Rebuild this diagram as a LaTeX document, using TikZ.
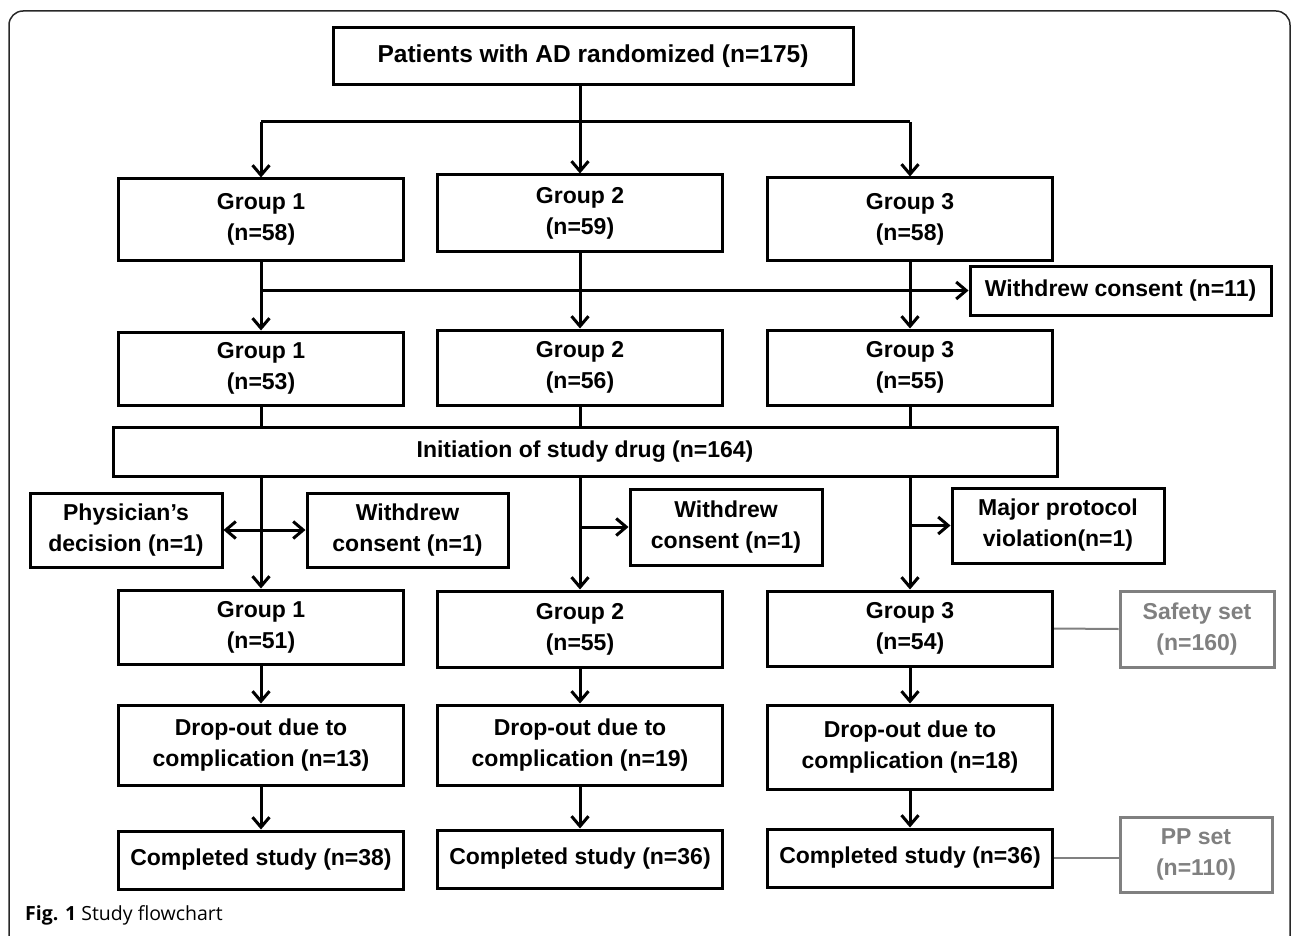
\documentclass[tikz,border=0pt]{standalone}
\usepackage{fontspec}
\setmainfont{Liberation Sans}
\newfontfamily\capfont{Open Sans}
\usetikzlibrary{arrows.meta,positioning}
\definecolor{boxline}{RGB}{0,0,0}
\definecolor{setgray}{RGB}{128,128,128}
\definecolor{framecol}{RGB}{40,40,40}

\begin{document}
\begin{tikzpicture}[x=1pt,y=-1pt,
  box/.style={draw=boxline, line width=3pt, fill=white, inner sep=0pt, align=center,
    font=\fontsize{23}{31}\selectfont\bfseries},
  setbox/.style={box, draw=setgray, text=setgray},
  ln/.style={draw=boxline, line width=3pt},
  arr/.style={ln, -{Straight Barb[length=10pt,width=17pt]}},
  setln/.style={draw=setgray, line width=2pt},
]
\useasboundingbox (0,0) rectangle (1292,936);
\draw[framecol, line width=1.5pt, rounded corners=14pt] (9,936) -- (9,11) -- (1290,11) -- (1290,936);

% ---- Boxes ----
\node[box, minimum width=520pt, minimum height=57pt, font=\fontsize{24.5}{31}\selectfont\bfseries] (top) at (593,56.5)
  {Patients with AD randomized (n=175)};
\coordinate (bus) at (580,122);

\node[box, minimum width=285pt, minimum height=81pt] (g1a) at (261,219.5) {Group 1\\(n=58)};
\node[box, minimum width=285pt, minimum height=76pt] (g2a) at (580,213)   {Group 2\\(n=59)};
\node[box, minimum width=285pt, minimum height=82pt] (g3a) at (910,219)   {Group 3\\(n=58)};
\node[box, minimum width=301pt, minimum height=49pt] (wc11) at (1120.5,290.5) {Withdrew consent (n=11)};

\node[box, minimum width=285pt, minimum height=73pt] (g1b) at (261,368.5) {Group 1\\(n=53)};
\node[box, minimum width=285pt, minimum height=75pt] (g2b) at (580,367.5) {Group 2\\(n=56)};
\node[box, minimum width=285pt, minimum height=75pt] (g3b) at (910,367.5) {Group 3\\(n=55)};

\node[box, minimum width=944pt, minimum height=49pt] (init) at (585,451.5) {Initiation of study drug (n=164)};

\node[box, minimum width=192pt, minimum height=74pt] (phys) at (126,530)   {Physician’s\\decision (n=1)};
\node[box, minimum width=201pt, minimum height=74pt] (wc1a) at (407.5,530) {Withdrew\\consent (n=1)};
\node[box, minimum width=192pt, minimum height=76pt] (wc1b) at (726,527)   {Withdrew\\consent (n=1)};
\node[box, minimum width=212pt, minimum height=75pt] (mpv)  at (1058,525.5) {Major protocol\\violation(n=1)};

\node[box, minimum width=285pt, minimum height=74pt] (g1c) at (261,627)   {Group 1\\(n=51)};
\node[box, minimum width=285pt, minimum height=76pt] (g2c) at (580,629)   {Group 2\\(n=55)};
\node[box, minimum width=285pt, minimum height=75pt] (g3c) at (910,628.5) {Group 3\\(n=54)};
\node[setbox, minimum width=154pt, minimum height=76pt] (safety) at (1197,629) {Safety set\\(n=160)};

\node[box, minimum width=285pt, minimum height=80pt] (d1) at (261,745) {Drop-out due to\\complication (n=13)};
\node[box, minimum width=285pt, minimum height=80pt] (d2) at (580,745) {Drop-out due to\\complication (n=19)};
\node[box, minimum width=285pt, minimum height=84pt] (d3) at (910,747) {Drop-out due to\\complication (n=18)};

\node[box, minimum width=285pt, minimum height=58pt] (c1) at (261,860) {Completed study (n=38)};
\node[box, minimum width=285pt, minimum height=58pt] (c2) at (580,859) {Completed study (n=36)};
\node[box, minimum width=285pt, minimum height=58pt] (c3) at (910,858) {Completed study (n=36)};
\node[setbox, minimum width=152pt, minimum height=75pt] (pp) at (1196,854.5) {PP set\\(n=110)};

\node[anchor=base west, inner sep=0pt, font=\capfont\fontsize{19.5}{22}\selectfont] (cap) at (25,920)
  {\textbf{Fig. 1} Study flowchart};

% ---- Randomization ----
\draw[ln] (top.south -| bus) -- (bus);
\draw[ln] (bus -| g1a.north) -- (bus -| g3a.north);
\foreach \g in {g1a,g2a,g3a}
  \draw[arr] (bus -| \g.north) -- (\g.north);

% ---- Consent withdrawn ----
\foreach \g/\h in {g1a/g1b,g2a/g2b,g3a/g3b}
  \draw[arr] (\g.south) -- (\h.north);
\draw[arr] (g1a.south |- wc11.west) -- (wc11.west);

% ---- Into study drug ----
\foreach \g in {g1b,g2b,g3b}
  \draw[ln] (\g.south) -- (\g.south |- init.north);
\foreach \g in {g1c,g2c,g3c}
  \draw[arr] (init.south -| \g.north) -- (\g.north);
\draw[ln, {Straight Barb[length=10pt,width=17pt]}-{Straight Barb[length=10pt,width=17pt]}] (phys.east) -- (wc1a.west);
\draw[arr] (wc1b.west -| g2c.north) -- (wc1b.west);
\draw[arr] (mpv.west -| g3c.north) -- (mpv.west);

% ---- Follow-up ----
\foreach \g/\h/\k in {g1c/d1/c1,g2c/d2/c2,g3c/d3/c3} {
  \draw[arr] (\g.south) -- (\h.north);
  \draw[arr] (\h.south) -- (\k.north);
}

% ---- Analysis sets ----
\draw[setln] (g3c.east) -- (safety.west);
\draw[setln] (c3.east) -- (c3.east -| pp.west);
\end{tikzpicture}
\end{document}
